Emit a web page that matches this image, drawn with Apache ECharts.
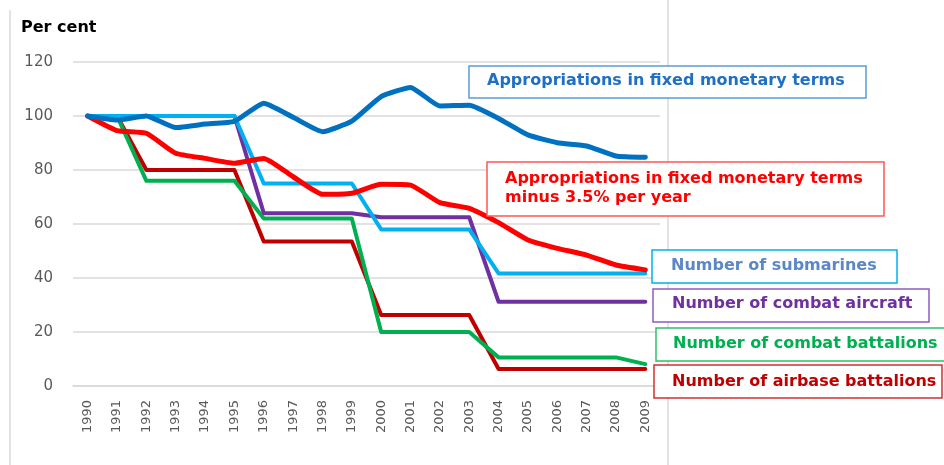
<!DOCTYPE html>
<html><head><meta charset="utf-8">
<script src="https://cdn.jsdelivr.net/npm/echarts@6/dist/echarts.min.js"></script>
<style>html,body{margin:0;padding:0;background:#fff}#c{width:944px;height:465px}</style>
</head><body><div id="c"></div>
<script>
const years = ['1990','1991','1992','1993','1994','1995','1996','1997','1998','1999','2000','2001','2002','2003','2004','2005','2006','2007','2008','2009'];
const yTicks = [0,20,40,60,80,100,120];
const appropriations = [100,98.5,100,95.7,97,98,104.7,99.5,94.2,98.1,107.2,110.6,103.7,104,99.1,93,90.1,88.9,85.2,84.7];
const appropMinus = [100,94.6,93.6,86.2,84.3,82.5,84.3,77.5,71,71.4,74.7,74.4,67.9,65.8,60.5,54.1,51,48.5,44.8,43];
const submarines = [100,100,100,100,100,100,75,75,75,75,58,58,58,58,41.7,41.7,41.7,41.7,41.7,41.7];
const aircraft = [100,100,100,100,100,100,64,64,64,64,62.5,62.5,62.5,62.5,31.2,31.2,31.2,31.2,31.2,31.2];
const combatBattalions = [100,100,76,76,76,76,62,62,62,62,20,20,20,20,10.6,10.6,10.6,10.6,10.6,8.1];
const airbaseBattalions = [100,100,80,80,80,80,53.5,53.5,53.5,53.5,26.3,26.3,26.3,26.3,6.3,6.3,6.3,6.3,6.3,6.3];

const FONT = 'DejaVu Sans';
function ln(name, data, color, w, smooth){
  return {name, type:'line', data, symbol:'none', smooth: smooth||false,
    lineStyle:{color, width:w, cap:'round', join:'round'}, itemStyle:{color}};
}
function box(x,y,w,h,stroke){
  return {type:'rect', shape:{x,y,width:w,height:h}, style:{fill:'#fff', stroke, lineWidth:1.5}, z:10};
}
function txt(x,y,text,fill){
  return {type:'text', x, y, style:{text, fill, font:'bold 16px "DejaVu Sans"', textVerticalAlign:'middle'}, z:11};
}
const chart = echarts.init(document.getElementById('c'));
chart.setOption({
  animation:false,
  backgroundColor:'#fff',
  grid:{left:73, right:284, top:62, bottom:79},
  xAxis:{type:'category', data:years, boundaryGap:true,
    axisTick:{show:false}, axisLine:{show:true, lineStyle:{color:'#d9d9d9', width:1.5}},
    axisLabel:{rotate:90, color:'#595959', fontSize:13, fontFamily:FONT, margin:14}},
  yAxis:{type:'value', min:yTicks[0], max:yTicks[yTicks.length-1], interval:20,
    axisLine:{show:false}, axisTick:{show:false},
    splitLine:{lineStyle:{color:'#d9d9d9', width:1.5}},
    axisLabel:{color:'#595959', fontSize:15, fontFamily:FONT, margin:20}},
  series:[
    ln('Number of airbase battalions', airbaseBattalions, '#C00000', 4),
    ln('Number of combat battalions', combatBattalions, '#00B050', 4),
    ln('Number of combat aircraft', aircraft, '#7030A0', 4),
    ln('Number of submarines', submarines, '#00B0F0', 4),
    ln('Appropriations in fixed monetary terms minus 3.5% per year', appropMinus, '#FF0000', 5, 0.15),
    ln('Appropriations in fixed monetary terms', appropriations, '#0070C0', 5, 0.15)
  ],
  graphic:[
    {type:'line', shape:{x1:10,y1:10,x2:10,y2:465}, style:{stroke:'#e3e3e3', lineWidth:2}},
    {type:'line', shape:{x1:668,y1:0,x2:668,y2:465}, style:{stroke:'#e3e3e3', lineWidth:2}},
    {type:'text', x:21, y:28, style:{text:'Per cent', fill:'#000', font:'bold 16px "DejaVu Sans"', textVerticalAlign:'middle'}},
    box(469,66,397,32,'#5B9BD5'), txt(487,81,'Appropriations in fixed monetary terms','#1F6FC5'),
    box(487,162,397,54,'#FF5555'), txt(505,179,'Appropriations in fixed monetary terms','#FF0000'), txt(505,198,'minus 3.5% per year','#FF0000'),
    box(652,250,245,33,'#00B0F0'), txt(671,266,'Number of submarines','#5B87C6'),
    box(653,289,276,33,'#8E5CC0'), txt(672,304,'Number of combat aircraft','#7030A0'),
    box(656,328,300,33,'#2EBD6B'), txt(673,344,'Number of combat battalions','#00B050'),
    box(654,365,288,33,'#D03030'), txt(672,382,'Number of airbase battalions','#C00000')
  ]
});
</script></body></html>
